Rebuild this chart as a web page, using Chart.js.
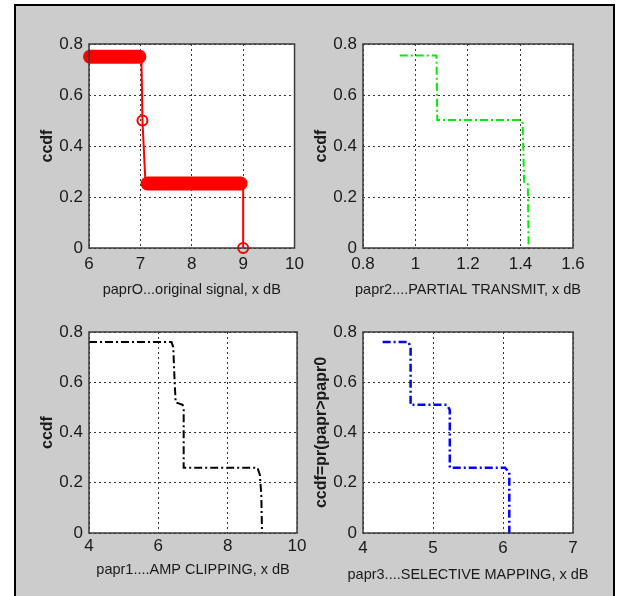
<!DOCTYPE html>
<html>
<head>
<meta charset="utf-8">
<script src="https://cdn.jsdelivr.net/npm/chart.js@4.4.1/dist/chart.umd.min.js"></script>
<style>
  html, body { margin: 0; padding: 0; background: #fff; }
  #page { position: relative; width: 624px; height: 596px; overflow: hidden; background: #fff; }
  #frame { position: absolute; left: 14px; top: 4px; width: 597px; height: 600px;
           border: 2px solid #000; background: #cccccc; }
  canvas { position: absolute; }
</style>
</head>
<body>
<div id="page">
  <div id="frame"></div>
  <canvas id="c1" width="290" height="290" style="left:20px;top:14px"></canvas>
  <canvas id="c2" width="305" height="290" style="left:294px;top:14px"></canvas>
  <canvas id="c3" width="290" height="287" style="left:20px;top:302px"></canvas>
  <canvas id="c4" width="305" height="287" style="left:294px;top:302px"></canvas>
</div>
<script>
// ========================================
// DATA
// ========================================
const yTicks = [0, 0.2, 0.4, 0.6, 0.8];

// papr0 - original signal (red, 'o-')
const origTicks = [6, 7, 8, 9, 10];
const origX = [7.02, 7.04, 7.1, 9.0, 9.0];
const origY = [0.75, 0.5, 0.25, 0.25, 0];
const origMarkX = [7.04, 9.0];
const origMarkY = [0.5, 0];
// runs of overlapping markers that look like thick bars
const origRunTopX = [6.02, 6.98];
const origRunTopY = [0.75, 0.75];
const origRunLowX = [7.14, 8.95];
const origRunLowY = [0.253, 0.253];

// papr2 - partial transmit (green, '-.')
const ptsTicks = [0.8, 1, 1.2, 1.4, 1.6];
const ptsX = [0.94, 1.08, 1.083, 1.4, 1.408, 1.414, 1.428, 1.431];
const ptsY = [0.755, 0.755, 0.502, 0.502, 0.49, 0.255, 0.25, 0];

// papr1 - amp clipping (black, '-.')
const clipTicks = [4, 6, 8, 10];
const clipX = [4, 6.38, 6.43, 6.47, 6.5, 6.7, 6.73, 6.73, 8.86, 8.93, 8.97, 8.99];
const clipY = [0.76, 0.76, 0.74, 0.6, 0.52, 0.51, 0.49, 0.26, 0.26, 0.23, 0.15, 0];

// papr3 - selective mapping (blue, '-.')
const slmTicks = [4, 5, 6, 7];
const slmX = [4.28, 4.65, 4.68, 4.68, 5.2, 5.24, 5.24, 6.03, 6.09, 6.09];
const slmY = [0.76, 0.76, 0.74, 0.51, 0.51, 0.49, 0.26, 0.26, 0.24, 0];

// ========================================
// HELPERS
// ========================================
const TICK_FONT = { family: "'Liberation Sans', Arial, sans-serif", size: 17 };
const YLAB_FONT = { family: "'Liberation Sans', Arial, sans-serif", size: 16, weight: 'bold' };
const TXT = '#1a1a1a';

function pts(xs, ys) {
    return xs.map((x, i) => ({ x: x, y: ys[i] }));
}

// white plot area + box around it, like matlab "box on"
const axesBox = {
    id: 'axesBox',
    beforeDraw(chart) {
        const { ctx, chartArea: a } = chart;
        ctx.save();
        ctx.fillStyle = '#fff';
        ctx.fillRect(a.left, a.top, a.width, a.height);
        ctx.restore();
    },
    afterDraw(chart) {
        const { ctx, chartArea: a } = chart;
        ctx.save();
        ctx.strokeStyle = '#3a3a3a';
        ctx.lineWidth = 1.5;
        ctx.strokeRect(a.left, a.top, a.width, a.height);
        ctx.restore();
    }
};

// x label drawn without the scale's maxWidth squeeze
const xLabel = {
    id: 'xLabel',
    afterDraw(chart, args, opts) {
        const { ctx, chartArea: a } = chart;
        ctx.save();
        ctx.font = "14.5px 'Liberation Sans', Arial, sans-serif";
        ctx.fillStyle = TXT;
        ctx.textAlign = 'center';
        ctx.textBaseline = 'middle';
        ctx.fillText(opts.text, (a.left + a.right) / 2, a.bottom + opts.offset);
        ctx.restore();
    }
};

function makeChart(id, sets, xr, xt, xTitle, yTitle, g) {
    return new Chart(document.getElementById(id), {
        type: 'scatter',
        data: { datasets: sets },
        plugins: [axesBox, xLabel],
        options: {
            responsive: false,
            animation: false,
            events: [],
            layout: { padding: { top: 30, right: g.right, left: 0, bottom: 0 } },
            plugins: {
                legend: { display: false },
                tooltip: { enabled: false },
                xLabel: { text: xTitle, offset: g.title }
            },
            scales: {
                x: {
                    type: 'linear', min: xr[0], max: xr[1],
                    afterBuildTicks: s => { s.ticks = xt.map(v => ({ value: v })); },
                    afterFit: s => { s.height = 56; },
                    ticks: { font: TICK_FONT, color: TXT, padding: g.tick, maxRotation: 0, autoSkip: false,
                             callback: v => String(v) },
                    grid: { color: '#333', lineWidth: 1, drawTicks: false },
                    border: { display: false, dash: [2, 3] }
                },
                y: {
                    type: 'linear', min: 0, max: 0.8,
                    afterBuildTicks: s => { s.ticks = yTicks.map(v => ({ value: v })); },
                    afterFit: s => { s.width = 69; },
                    ticks: { font: TICK_FONT, color: TXT, padding: 6, callback: v => String(v) },
                    grid: { color: '#333', lineWidth: 1, drawTicks: false },
                    border: { display: false, dash: [2, 3] },
                    title: { display: true, text: yTitle, font: YLAB_FONT, color: TXT,
                             padding: { top: 18, bottom: 0 } }
                }
            }
        }
    });
}

function dashLine(data, color, width) {
    return { data: data, showLine: true, borderColor: color, borderWidth: width,
             borderDash: [8, 3, 2, 3], pointRadius: 0, tension: 0, fill: false };
}

// ========================================
// RENDER
// ========================================
makeChart('c1', [
    { data: pts(origRunTopX, origRunTopY), showLine: true, borderColor: '#ff0000', borderWidth: 14,
      borderCapStyle: 'round', pointRadius: 0, clip: false },
    { data: pts(origRunLowX, origRunLowY), showLine: true, borderColor: '#ff0000', borderWidth: 14,
      borderCapStyle: 'round', pointRadius: 0, clip: false },
    { data: pts(origX, origY), showLine: true, borderColor: '#ff0000', borderWidth: 2,
      pointRadius: 0, tension: 0, clip: false },
    { data: pts(origMarkX, origMarkY), showLine: false, pointRadius: 5, pointBorderWidth: 2,
      pointBorderColor: '#ff0000', pointBackgroundColor: 'rgba(0,0,0,0)', clip: false }
], [6, 10], origTicks, 'paprO...original signal, x dB', 'ccdf', { tick: 6, title: 41.5, right: 12 });

makeChart('c2', [dashLine(pts(ptsX, ptsY), '#00ee00', 2)],
    [0.8, 1.6], ptsTicks, 'papr2....PARTIAL TRANSMIT, x dB', 'ccdf', { tick: 6.5, title: 41.5, right: 26 });

makeChart('c3', [dashLine(pts(clipX, clipY), '#000000', 2)],
    [4, 10], clipTicks, 'papr1....AMP CLIPPING, x dB', 'ccdf', { tick: 3.5, title: 37, right: 12 });

makeChart('c4', [dashLine(pts(slmX, slmY), '#0000ff', 2.5)],
    [4, 7], slmTicks, 'papr3....SELECTIVE MAPPING, x dB', 'ccdf=pr(papr>papr0', { tick: 5.5, title: 42, right: 26 });
</script>
</body>
</html>
